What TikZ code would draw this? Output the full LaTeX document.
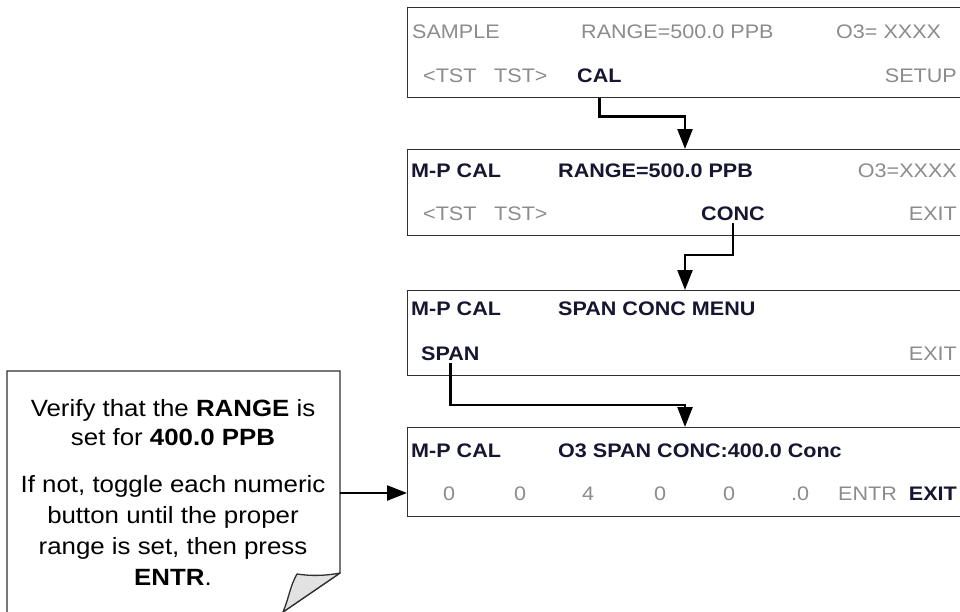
\documentclass[tikz,border=0pt]{standalone}
\usepackage{fontspec}
\setmainfont[FakeStretch=1.1]{Liberation Sans}
\usetikzlibrary{arrows.meta}
\definecolor{lcdgray}{HTML}{8C8C8C}
\definecolor{lcddark}{HTML}{161630}
\definecolor{framegray}{HTML}{303030}
\definecolor{foldgray}{HTML}{E2E2E2}
\begin{document}
\begin{tikzpicture}[x=1pt,y=-1pt,
  screen/.style={draw=framegray, line width=1.3pt, minimum width=580pt, anchor=north west, inner sep=0pt},
  dim/.style={text=lcdgray, font=\fontsize{19.6}{22}\selectfont, inner sep=0pt},
  hot/.style={text=lcddark, font=\fontsize{19.6}{22}\selectfont\bfseries, inner sep=0pt},
  arr/.style={line width=2.4pt, -{Triangle[length=20pt,width=15pt]}},
  noteline/.style={draw=framegray, line width=1.3pt, line join=miter},
  foldstyle/.style={draw=framegray, fill=foldgray, line width=1.3pt, line join=round},
  notetext/.style={align=center, inner sep=0pt, text=black, font=\fontsize{23.5}{31}\selectfont}]
\useasboundingbox (0,0) rectangle (960,611);
\clip (0,0) rectangle (960,611);
\fill[white] (0,0) rectangle (960,611);

% screens
\node[screen, minimum height=90pt] (b1) at (407,7) {};
\node[screen, minimum height=86pt] (b2) at (407,149) {};
\node[screen, minimum height=85pt] (b3) at (407,290) {};
\node[screen, minimum height=89pt] (b4) at (407,427) {};

% screen 1
\node[dim, anchor=base west] (s1a) at (412,38) {SAMPLE};
\node[dim, anchor=base west] (s1b) at (581,38) {RANGE=500.0 PPB};
\node[dim, anchor=base west] (s1c) at (836,38) {O3= XXXX};
\node[dim, anchor=base west] (s1d) at (423,82) {<TST};
\node[dim, anchor=base west] (s1e) at (494,82) {TST>};
\node[hot, anchor=base west] (cal) at (577,82) {CAL};
\node[dim, anchor=base east] (s1f) at (957,82) {SETUP};

% screen 2
\node[hot, anchor=base west] (s2a) at (411,177) {M-P CAL};
\node[hot, anchor=base west] (s2b) at (558,177) {RANGE=500.0 PPB};
\node[dim, anchor=base east] (s2c) at (957,177) {O3=XXXX};
\node[dim, anchor=base west] (s2d) at (423,220) {<TST};
\node[dim, anchor=base west] (s2e) at (494,220) {TST>};
\node[hot, anchor=base west] (conc) at (701,220) {CONC};
\node[dim, anchor=base east] (s2f) at (957,220) {EXIT};

% screen 3
\node[hot, anchor=base west] (s3a) at (411,315) {M-P CAL};
\node[hot, anchor=base west] (s3b) at (558,315) {SPAN CONC MENU};
\node[hot, anchor=base west] (span) at (421,360) {SPAN};
\node[dim, anchor=base east] (s3c) at (957,360) {EXIT};

% screen 4
\node[hot, anchor=base west] (s4a) at (411,457) {M-P CAL};
\node[hot, anchor=base west] (s4b) at (558,457) {O3 SPAN CONC:400.0 Conc};
\node[dim, anchor=base] (d1) at (449,500) {0};
\node[dim, anchor=base] (d2) at (520,500) {0};
\node[dim, anchor=base] (d3) at (588,500) {4};
\node[dim, anchor=base] (d4) at (660,500) {0};
\node[dim, anchor=base] (d5) at (729,500) {0};
\node[dim, anchor=base] (d6) at (800,500) {.0};
\node[dim, anchor=base west] (entr) at (838,500) {ENTR};
\node[hot, anchor=base east] (exit4) at (957,500) {EXIT};

% connectors
\coordinate (in2) at (685,149);
\coordinate (k2) at (685,255);
\coordinate (in3) at (685,290);
\coordinate (k3) at (685,405);
\coordinate (in4) at (685,427);
\draw[arr] (cal.south |- b1.south) -- ++(0,18) -| (in2);
\draw[arr] ([yshift=-3pt]conc.south) -- (conc.south |- k2) -| (in3);
\draw[arr] ([yshift=-3pt]span.south) -- (span.south |- k3) -| (in4);

% callout
\draw[noteline] (7,625) -- (7,371) -- (340,371) -- (340,573) -- (283,612);
\filldraw[foldstyle] (297,574) .. controls (310,576) and (325,576) .. (340,573)
  -- (283,612) .. controls (289,598) and (290,586) .. (297,574) -- cycle;
\node[notetext, anchor=north] (note) at (173,399)
  {Verify that the \textbf{RANGE} is\\[-2pt] set for \textbf{400.0 PPB}\\[16pt]
   If not, toggle each numeric\\ button until the proper\\ range is set, then press\\ \textbf{ENTR}.};
\coordinate (cr) at (340,493);
\draw[arr] (cr) -- (cr -| b4.west);
\end{tikzpicture}
\end{document}
